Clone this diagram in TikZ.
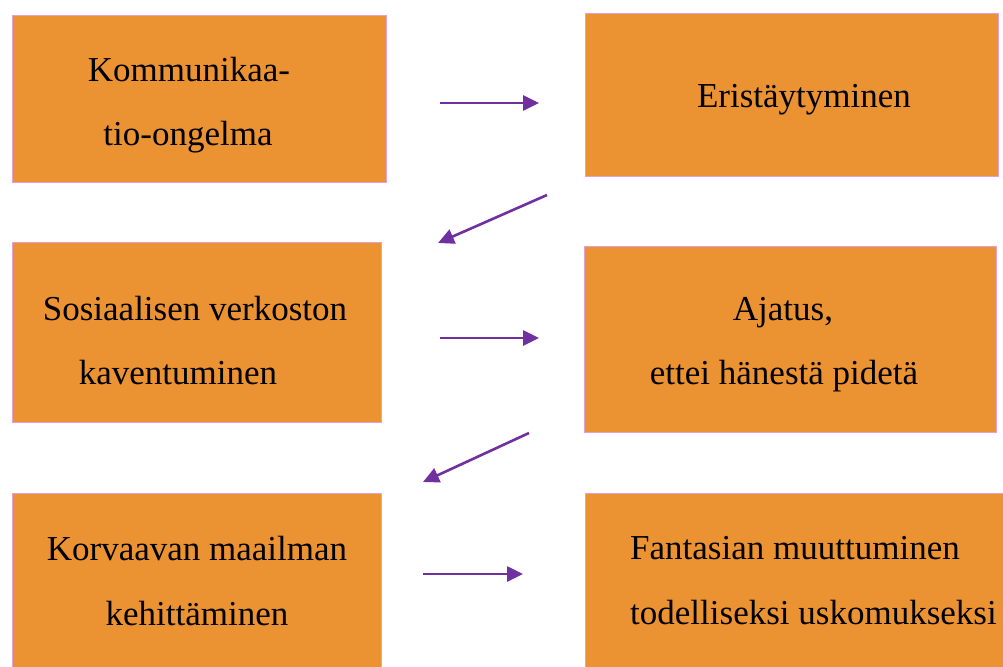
\documentclass[tikz,border=0pt]{standalone}
\usepackage{fontspec}
\setmainfont{Liberation Serif}
\usetikzlibrary{arrows.meta}
\definecolor{boxfill}{RGB}{235,146,50}
\definecolor{boxedge}{RGB}{226,160,214}
\definecolor{arrowcol}{RGB}{112,48,160}
\tikzset{
  box/.style={draw=boxedge, fill=boxfill, line width=1.3pt, rectangle, anchor=north west, inner sep=0pt},
  lbl/.style={inner sep=0pt, font=\fontsize{35}{42}\selectfont, text=black},
  flow/.style={draw=arrowcol, line width=2.6pt, -{Triangle[length=16pt,width=15pt]}}
}
\begin{document}
\begin{tikzpicture}[x=1pt,y=-1pt]
\useasboundingbox (0,0) rectangle (1003,666);
\clip (0,0) rectangle (1003,666);
% boxes
\node[box, minimum width=374pt, minimum height=167pt] (b1) at (12,15) {};
\node[box, minimum width=413pt, minimum height=163pt] (b2) at (585,13) {};
\node[box, minimum width=369pt, minimum height=180pt] (b3) at (12,242) {};
\node[box, minimum width=412pt, minimum height=186pt] (b4) at (584,246) {};
\node[box, minimum width=369pt, minimum height=210pt] (b5) at (12,493) {};
\node[box, minimum width=460pt, minimum height=210pt] (b6) at (585,493) {};
% labels
\node[lbl, anchor=base] (t1a) at (189,82) {Kommunikaa-};
\node[lbl, anchor=base] (t1b) at (188,146) {tio-ongelma};
\node[lbl, anchor=base] (t2) at (804,107) {Eristäytyminen};
\node[lbl, anchor=base] (t3a) at (195,320) {Sosiaalisen verkoston};
\node[lbl, anchor=base] (t3b) at (178,384) {kaventuminen};
\node[lbl, anchor=base] (t4a) at (783,320) {Ajatus,};
\node[lbl, anchor=base] (t4b) at (784,384) {ettei hänestä pidetä};
\node[lbl, anchor=base] (t5a) at (197,560) {Korvaavan maailman};
\node[lbl, anchor=base] (t5b) at (197,625) {kehittäminen};
\node[lbl, anchor=base west] (t6a) at (630,559) {Fantasian muuttuminen};
\node[lbl, anchor=base west] (t6b) at (630,624) {todelliseksi uskomukseksi};
% arrow end points
\coordinate (a1s) at (440,103); \coordinate (a1e) at (539,103);
\coordinate (a2s) at (547,195); \coordinate (a2e) at (438,243);
\coordinate (a3s) at (440,338); \coordinate (a3e) at (539,338);
\coordinate (a4s) at (529,433); \coordinate (a4e) at (423,482);
\coordinate (a5s) at (423,574); \coordinate (a5e) at (523,574);
\draw[flow] (a1s) -- (a1e);
\draw[flow] (a2s) -- (a2e);
\draw[flow] (a3s) -- (a3e);
\draw[flow] (a4s) -- (a4e);
\draw[flow] (a5s) -- (a5e);
\end{tikzpicture}
\end{document}
